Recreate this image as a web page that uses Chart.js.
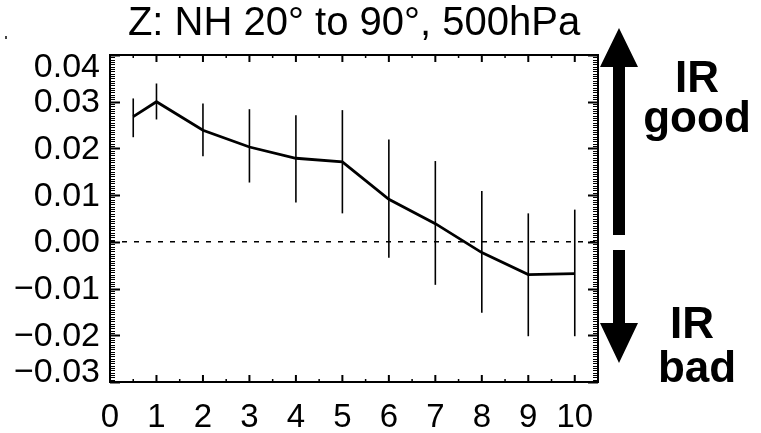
<!DOCTYPE html>
<html><head><meta charset="utf-8">
<script src="https://cdn.jsdelivr.net/npm/chart.js@4/dist/chart.umd.min.js"></script>
<style>html,body{margin:0;padding:0;background:#fff;overflow:hidden}#wrap{width:761px;height:433px;position:relative}</style>
</head><body><div id="wrap"><canvas id="c" width="761" height="433"></canvas></div>
<script>
const titleText = "Z: NH 20° to 90°, 500hPa";
const xValues = [0.5, 1, 2, 3, 4, 5, 6, 7, 8, 9, 10];
const meanValues = [0.0268, 0.0300, 0.0239, 0.0203, 0.0179, 0.0171, 0.0091, 0.0039, -0.0023, -0.0070, -0.0068];
const upperValues = [0.0307, 0.0339, 0.0296, 0.0284, 0.0271, 0.0282, 0.0219, 0.0173, 0.0109, 0.0061, 0.0069];
const lowerValues = [0.0224, 0.0262, 0.0183, 0.0127, 0.0084, 0.0061, -0.0034, -0.0092, -0.0152, -0.0202, -0.0202];
const xTickValues = [0, 1, 2, 3, 4, 5, 6, 7, 8, 9, 10];
const yTickValues = [-0.03, -0.02, -0.01, 0.00, 0.01, 0.02, 0.03, 0.04];
const yTickLabels = ["\u22120.03", "\u22120.02", "\u22120.01", "0.00", "0.01", "0.02", "0.03", "0.04"];
const goodLabel = ["IR", "good"];
const badLabel = ["IR", "bad"];

const FONT = "'Liberation Sans', Arial, Helvetica, sans-serif";

const decorPlugin = {
  id: 'decor',
  beforeDatasetsDraw(chart) {
    const {ctx, chartArea: a, scales: {x, y}} = chart;
    ctx.save();
    ctx.strokeStyle = '#000';
    ctx.lineWidth = 1.5;
    ctx.setLineDash([5, 7]);
    const y0 = y.getPixelForValue(0);
    ctx.beginPath();
    ctx.moveTo(a.left, y0);
    ctx.lineTo(a.right, y0);
    ctx.stroke();
    ctx.restore();
  },
  afterDatasetsDraw(chart) {
    const {ctx, chartArea: a, scales: {x, y}} = chart;
    ctx.save();
    // error bars
    ctx.strokeStyle = '#000';
    ctx.lineWidth = 1.6;
    for (let i = 0; i < xValues.length; i++) {
      const px = x.getPixelForValue(xValues[i]);
      ctx.beginPath();
      ctx.moveTo(px, y.getPixelForValue(upperValues[i]));
      ctx.lineTo(px, y.getPixelForValue(lowerValues[i]));
      ctx.stroke();
    }
    // frame
    ctx.lineWidth = 2;
    ctx.strokeRect(a.left, a.top, a.right - a.left, a.bottom - a.top);
    // y ticks
    const yMin = y.min, yMax = y.max;
    for (let k = 0; ; k++) {
      const v = yMin + k * 0.0005;
      if (v > yMax + 1e-9) break;
      const py = Math.round(y.getPixelForValue(v)) + 0.5;
      const isMajor = Math.abs(Math.round(v / 0.01) * 0.01 - v) < 1e-9;
      const len = isMajor ? 10 : 5;
      ctx.lineWidth = isMajor ? 2 : 1;
      ctx.beginPath();
      ctx.moveTo(a.left, py); ctx.lineTo(a.left + len, py);
      ctx.moveTo(a.right, py); ctx.lineTo(a.right - len, py);
      ctx.stroke();
    }
    // x ticks
    for (let k = 0; ; k++) {
      const v = x.min + k * 0.5;
      if (v > x.max + 1e-9) break;
      const px = x.getPixelForValue(v);
      const isMajor = k % 2 === 0;
      ctx.lineWidth = isMajor ? 2 : 1.5;
      const len = isMajor ? 7 : 3;
      ctx.beginPath();
      ctx.moveTo(px, a.bottom); ctx.lineTo(px, a.bottom - len);
      ctx.moveTo(px, a.top); ctx.lineTo(px, a.top + len);
      ctx.stroke();
    }
    // y labels
    ctx.fillStyle = '#000';
    ctx.font = "34px " + FONT;
    ctx.textAlign = 'right';
    ctx.textBaseline = 'middle';
    for (let i = 0; i < yTickValues.length; i++) {
      let py = y.getPixelForValue(yTickValues[i]) + 1;
      if (i === yTickValues.length - 1) py += 12;
      if (i === 0) py -= 10;
      ctx.fillText(yTickLabels[i], a.left - 10, py);
    }
    // arrows
    const cx = 619;
    ctx.fillStyle = '#000';
    ctx.beginPath();
    ctx.moveTo(cx, 28); ctx.lineTo(cx + 19, 67); ctx.lineTo(cx + 6, 67); ctx.lineTo(cx + 6, 235);
    ctx.lineTo(cx - 6, 235); ctx.lineTo(cx - 6, 67); ctx.lineTo(cx - 19, 67); ctx.closePath();
    ctx.fill();
    ctx.beginPath();
    ctx.moveTo(cx, 363); ctx.lineTo(cx + 19, 323); ctx.lineTo(cx + 6, 323); ctx.lineTo(cx + 6, 250);
    ctx.lineTo(cx - 6, 250); ctx.lineTo(cx - 6, 323); ctx.lineTo(cx - 19, 323); ctx.closePath();
    ctx.fill();
    // side labels
    ctx.font = "bold 44px " + FONT;
    ctx.textAlign = 'center';
    ctx.textBaseline = 'alphabetic';
    ctx.fillText(goodLabel[0], 697, 92);
    ctx.fillText(goodLabel[1], 697, 132);
    ctx.fillText(badLabel[0], 692, 338);
    ctx.fillText(badLabel[1], 697, 382);
    // stray dot
    ctx.fillStyle = '#444';
    ctx.fillRect(5, 36, 2, 3);
    ctx.restore();
  }
};

new Chart(document.getElementById('c'), {
  type: 'line',
  data: {
    datasets: [{
      data: xValues.map((v, i) => ({x: v, y: meanValues[i]})),
      borderColor: '#000',
      borderWidth: 2.8,
      pointRadius: 0,
      tension: 0,
      fill: false
    }]
  },
  options: {
    responsive: false,
    animation: false,
    devicePixelRatio: 1,
    layout: {padding: {left: 0, right: 163, top: 0, bottom: 0}},
    plugins: {
      legend: {display: false},
      tooltip: {enabled: false},
      title: {
        display: true,
        text: titleText,
        fullSize: false,
        color: '#000',
        font: {family: FONT, size: 40, weight: 'normal', lineHeight: 1.2},
        padding: {top: 0, bottom: 7}
      }
    },
    scales: {
      x: {
        type: 'linear',
        min: 0, max: 10.5,
        grid: {display: false},
        border: {display: false},
        afterFit(s) { s.height = 51; },
        afterBuildTicks(s) { s.ticks = xTickValues.map(v => ({value: v})); },
        ticks: {
          stepSize: 1,
          includeBounds: false,
          autoSkip: false,
          maxRotation: 0,
          color: '#000',
          padding: 8,
          font: {family: FONT, size: 33},
          callback: v => String(v)
        }
      },
      y: {
        type: 'linear',
        min: -0.03, max: 0.04,
        grid: {display: false},
        border: {display: false},
        afterFit(s) { s.width = 110; },
        ticks: {display: false, stepSize: 0.01}
      }
    }
  },
  plugins: [decorPlugin]
});
</script>
</body></html>
